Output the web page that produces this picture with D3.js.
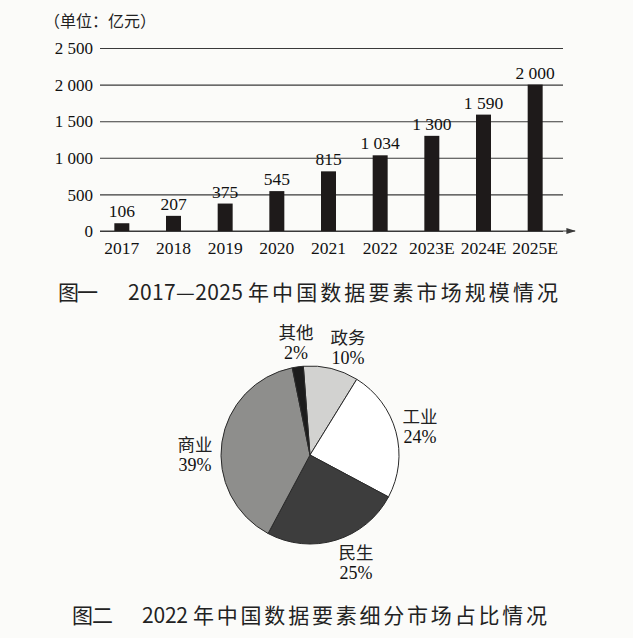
<!DOCTYPE html>
<html>
<head>
<meta charset="utf-8">
<script src="https://cdn.jsdelivr.net/npm/d3@7"></script>
<style>
    html, body { margin: 0; padding: 0; background: #fbfbf9; }
    svg { display: block; }
    .num { font-family: "Liberation Serif", "DejaVu Serif", serif; fill: #111; }
    .cjk { font-family: "Noto Sans CJK SC", sans-serif; fill: #222; }
</style>
</head>
<body>
<svg id="chart" width="633" height="638"></svg>
<script>
// figure 1: market size (100 million yuan)
const years = ["2017", "2018", "2019", "2020", "2021", "2022", "2023E", "2024E", "2025E"];
const sizes = [106, 207, 375, 545, 815, 1034, 1300, 1590, 2000];
const yTicks = [0, 500, 1000, 1500, 2000, 2500];

// figure 2: 2022 segment shares (%)
const segments = ["政务", "工业", "民生", "商业", "其他"];
const shares = [10, 24, 25, 39, 2];
const segColors = ["#d2d2d0", "#ffffff", "#3d3d3d", "#8e8e8c", "#1c1c1c"];

const svg = d3.select("#chart");
const fmt = d3.formatLocale({ decimal: ".", thousands: " ", grouping: [3], currency: ["", ""] }).format(",");

/* ---------- bar chart ---------- */
const left = 100, gridRight = 563, axisRight = 575;
const x = d3.scaleBand().domain(years).range([96, 561]).paddingInner(0.71).paddingOuter(0.355);
const y = d3.scaleLinear().domain([0, 2500]).range([231, 48]);

svg.append("text")
    .attr("class", "cjk")
    .attr("x", 44).attr("y", 27)
    .attr("font-size", 16)
    .text("（单位：亿元）");

const yAxis = svg.append("g")
    .attr("transform", `translate(${left},0)`)
    .call(d3.axisLeft(y).tickValues(yTicks).tickFormat(fmt)
        .tickSize(-(gridRight - left)).tickPadding(7));
yAxis.select(".domain").remove();
yAxis.selectAll(".tick line").attr("stroke", "#3a3a3a").attr("stroke-width", 1.1);
yAxis.selectAll(".tick text")
    .attr("class", "num")
    .attr("font-size", 17)
    .attr("dy", "0.33em");

// x axis line with arrow
const defs = svg.append("defs");
defs.append("marker")
    .attr("id", "arrow")
    .attr("viewBox", "0 0 10 10")
    .attr("refX", 9).attr("refY", 5)
    .attr("markerWidth", 8).attr("markerHeight", 8)
    .attr("orient", "auto")
    .append("path")
    .attr("d", "M0,2 L10,5 L0,8 Z")
    .attr("fill", "#3a3a3a");

svg.append("line")
    .attr("x1", left).attr("x2", axisRight)
    .attr("y1", y(0)).attr("y2", y(0))
    .attr("stroke", "#3a3a3a").attr("stroke-width", 1.2)
    .attr("marker-end", "url(#arrow)");

const xAxis = svg.append("g")
    .attr("transform", `translate(0,${y(0)})`)
    .call(d3.axisBottom(x).tickSize(0).tickPadding(11));
xAxis.select(".domain").remove();
xAxis.selectAll(".tick text")
    .attr("class", "num")
    .attr("font-size", 17.5);

svg.append("g")
    .selectAll("rect")
    .data(sizes)
    .join("rect")
    .attr("x", (d, i) => x(years[i]))
    .attr("y", d => y(d))
    .attr("width", x.bandwidth())
    .attr("height", d => y(0) - y(d))
    .attr("fill", "#1e1a1a");

svg.append("g")
    .selectAll("text")
    .data(sizes)
    .join("text")
    .attr("class", "num")
    .attr("font-size", 17.5)
    .attr("text-anchor", "middle")
    .attr("x", (d, i) => x(years[i]) + x.bandwidth() / 2)
    .attr("y", d => y(d) - 6)
    .text(d => fmt(d));

/* ---------- captions ---------- */
function caption(yPos, parts) {
    const t = svg.append("text").attr("class", "cjk").attr("y", yPos).attr("font-size", 21).attr("fill", "#333");
    parts.forEach(p => {
        t.append("tspan")
            .attr("x", p.x)
            .attr("textLength", p.w)
            .attr("lengthAdjust", "spacing")
            .text(p.s);
    });
}

caption(300, [
    { s: "图一", x: 58, w: 40 },
    { s: "2017—2025", x: 128, w: 115 },
    { s: "年中国数据要素市场规模情况", x: 248, w: 310 }
]);
caption(623, [
    { s: "图二", x: 72, w: 41 },
    { s: "2022", x: 142, w: 46 },
    { s: "年中国数据要素细分市场占比情况", x: 193, w: 354 }
]);

/* ---------- pie chart ---------- */
const cx = 310, cy = 455, r = 89;
const pie = d3.pie().sort(null).startAngle(-0.075).endAngle(2 * Math.PI - 0.075);
const arcs = pie(shares);
const arc = d3.arc().innerRadius(0).outerRadius(r);

const gPie = svg.append("g").attr("transform", `translate(${cx},${cy})`);
gPie.selectAll("path")
    .data(arcs)
    .join("path")
    .attr("d", arc)
    .attr("fill", (d, i) => segColors[i])
    .attr("stroke", "#2a2a2a")
    .attr("stroke-width", 1);

// label anchors (name / percent)
const labelPos = [
    [348, 344],
    [420, 423],
    [356, 559],
    [195, 451],
    [296, 339]
];
const gLab = svg.append("g");
segments.forEach((s, i) => {
    gLab.append("text")
        .attr("class", "cjk")
        .attr("font-size", 17.5)
        .attr("text-anchor", "middle")
        .attr("x", labelPos[i][0]).attr("y", labelPos[i][1])
        .text(s);
    gLab.append("text")
        .attr("class", "num")
        .attr("font-size", 18)
        .attr("text-anchor", "middle")
        .attr("x", labelPos[i][0]).attr("y", labelPos[i][1] + 20)
        .text(shares[i] + "%");
});
</script>
</body>
</html>
